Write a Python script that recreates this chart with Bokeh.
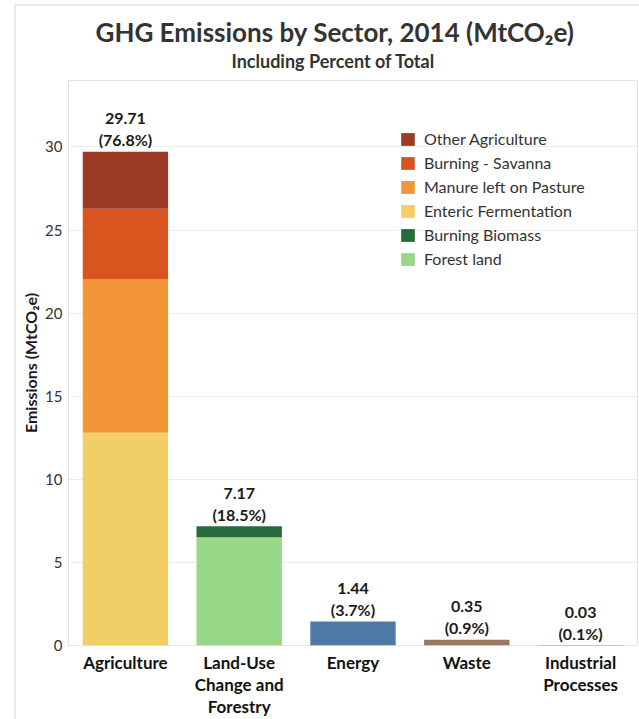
from bokeh.plotting import figure
from bokeh.models import (ColumnDataSource, FactorRange, Range1d, Legend, LegendItem,
                          LabelSet, FixedTicker, Title, CategoricalAxis, InlineStyleSheet)
from bokeh.core.properties import value
from bokeh.embed import file_html
from bokeh.resources import INLINE

# ---------------- data ----------------
sectors = ["Agriculture", "Land-Use Change and Forestry", "Energy", "Waste", "Industrial Processes"]
tick_line1 = ["Agriculture", "Land-Use", "Energy", "Waste", "Industrial"]
tick_line2 = ["", "Change and", "", "", "Processes"]
tick_line3 = ["", "Forestry", "", "", ""]

enteric_fermentation = [12.81, 0, 0, 0, 0]
manure_on_pasture = [9.22, 0, 0, 0, 0]
burning_savanna = [4.25, 0, 0, 0, 0]
other_agriculture = [3.43, 0, 0, 0, 0]
forest_land = [0, 6.51, 0, 0, 0]
burning_biomass = [0, 0.66, 0, 0, 0]
energy = [0, 0, 1.44, 0, 0]
waste = [0, 0, 0, 0.35, 0]
industrial = [0, 0, 0, 0, 0.03]

totals = [29.71, 7.17, 1.44, 0.35, 0.03]
percents = [76.8, 18.5, 3.7, 0.9, 0.1]

y_ticks = [0, 5, 10, 15, 20, 25, 30]

series_keys = ["enteric", "manure", "savanna", "other", "forest", "biomass",
               "energy", "waste", "industrial"]
series_vals = [enteric_fermentation, manure_on_pasture, burning_savanna, other_agriculture,
               forest_land, burning_biomass, energy, waste, industrial]
series_colors = ["#F2CF66", "#F39638", "#D9541F", "#9D3A26", "#98D688", "#256B3C",
                 "#4E79A7", "#9D7660", "#79706E"]
legend_order = [("Other Agriculture", "other"), ("Burning - Savanna", "savanna"),
                ("Manure left on Pasture", "manure"), ("Enteric Fermentation", "enteric"),
                ("Burning Biomass", "biomass"), ("Forest land", "forest")]

FONT = "Lato"

data = {"sector": sectors}
for k, v in zip(series_keys, series_vals):
    data[k] = v
source = ColumnDataSource(data)


def unique_blanks(labels):
    # categorical factors must be unique: blank entries get distinct whitespace
    out, n = [], 0
    for s in labels:
        if s == "":
            n += 1
            out.append(" " * n)
        else:
            out.append(s)
    return out


p = figure(width=639, height=719, x_range=FactorRange(*sectors), y_range=Range1d(0, 34),
           output_backend="svg", toolbar_location=None,
           min_border_left=68, min_border_right=2, min_border_top=80, min_border_bottom=74)
p.x_range.range_padding = 0
p.extra_x_ranges = {
    "l1": FactorRange(*unique_blanks(tick_line1)),
    "l2": FactorRange(*unique_blanks(tick_line2)),
    "l3": FactorRange(*unique_blanks(tick_line3)),
}

renderers = p.vbar_stack(series_keys, x="sector", width=0.75, source=source,
                         color=series_colors, line_color=None)
rmap = dict(zip(series_keys, renderers))

# grid / outline
p.outline_line_color = "#E3E3E3"
p.outline_line_width = 1
p.xgrid.grid_line_color = None
p.ygrid.grid_line_color = "#EBEBEB"
p.ygrid.ticker = FixedTicker(ticks=y_ticks)

# y axis
p.yaxis.ticker = FixedTicker(ticks=y_ticks)
p.yaxis.axis_line_color = None
p.yaxis.major_tick_line_color = None
p.yaxis.minor_tick_line_color = None
p.yaxis.major_tick_out = 0
p.yaxis.minor_tick_out = 0
p.yaxis.major_label_text_font = FONT
p.yaxis.major_label_text_font_size = "15px"
p.yaxis.major_label_text_color = "#333333"
p.yaxis.major_label_standoff = 6
p.yaxis.axis_label = "Emissions (MtCO\u2082e)"
p.yaxis.axis_label_text_font = FONT
p.yaxis.axis_label_text_font_size = "16px"
p.yaxis.axis_label_text_font_style = "bold"
p.yaxis.axis_label_text_color = "#1A1A1A"
p.yaxis.axis_label_standoff = 2

# x axis: hide the main one, draw the labels as three stacked lines
p.xaxis[0].visible = False
for name, standoff in (("l1", 6), ("l2", -2), ("l3", -2)):
    ax = CategoricalAxis(x_range_name=name)
    ax.axis_line_color = None
    ax.major_tick_line_color = None
    ax.minor_tick_line_color = None
    ax.major_tick_out = 0
    ax.minor_tick_out = 0
    ax.major_label_text_font = FONT
    ax.major_label_text_font_size = "17px"
    ax.major_label_text_font_style = "bold"
    ax.major_label_text_color = "#111111"
    ax.major_label_standoff = standoff
    p.add_layout(ax, "below")

# value labels
lab_src = ColumnDataSource({
    "sector": sectors,
    "y": totals,
    "val": [f"{v:.2f}" for v in totals],
    "pct": [f"({v:.1f}%)" for v in percents],
})
for col, off in (("pct", 12), ("val", 33)):
    p.add_layout(LabelSet(x="sector", y="y", text=col, source=lab_src, y_offset=off,
                          text_align="center", text_baseline="middle",
                          text_font=value(FONT), text_font_size=value("16px"),
                          text_font_style=value("bold"), text_color=value("#1A1A1A")))

# legend
legend = Legend(items=[LegendItem(label=lbl, renderers=[rmap[k]]) for lbl, k in legend_order],
                location=(331, 377), orientation="vertical",
                glyph_width=17, glyph_height=16, label_height=16, spacing=5,
                label_standoff=8, padding=0, margin=0,
                border_line_color=None, background_fill_alpha=0,
                label_text_font=FONT, label_text_font_size="16px", label_text_color="#333333")
p.add_layout(legend, "center")

# titles (subtitle first: closer to the frame)
p.title = None
p.add_layout(Title(text="Including Percent of Total", align="left", offset=163,
                   text_font=FONT, text_font_size="18px", text_font_style="bold",
                   text_color="#333333", standoff=17), "above")
p.add_layout(Title(text="GHG Emissions by Sector, 2014 (MtCO\u2082e)", align="left", offset=27,
                   text_font=FONT, text_font_size="26px", text_font_style="bold",
                   text_color="#333333", standoff=-17), "above")

# faint outer frame
p.stylesheets = [InlineStyleSheet(css=(
    ":host::after { content: ''; position: absolute; left: 14px; top: 4px; "
    "right: -10px; bottom: -10px; border-left: 2px solid #EBEBEB; "
    "border-top: 2px solid #EBEBEB; pointer-events: none; }"))]

open("out.html", "w").write(file_html(p, INLINE))
